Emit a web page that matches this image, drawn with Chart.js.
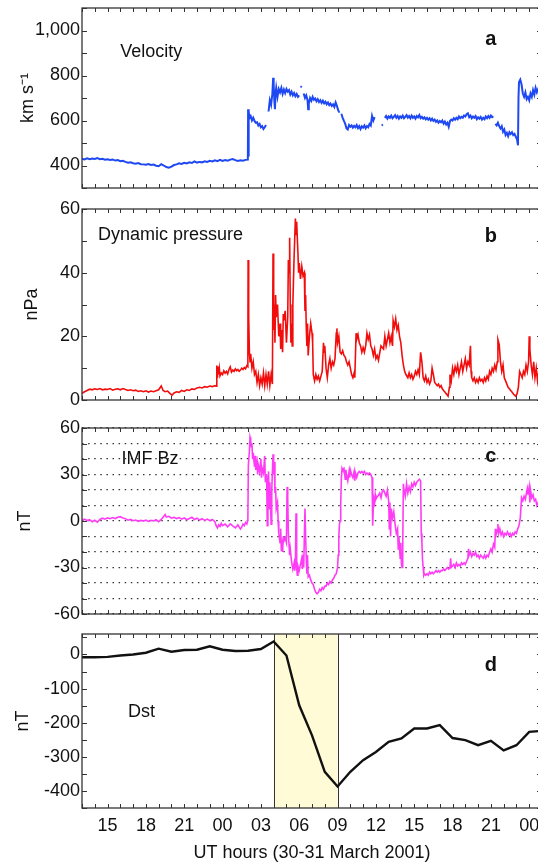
<!DOCTYPE html>
<html>
<head>
<meta charset="utf-8">
<script src="https://cdn.jsdelivr.net/npm/chart.js@4.4.1/dist/chart.umd.min.js"></script>
<style>
  html, body { margin: 0; padding: 0; background: #fff; }
  body { width: 538px; height: 865px; overflow: hidden; position: relative; }
  canvas { position: absolute; left: 0; }
</style>
</head>
<body>
<canvas id="velocity" width="542" height="204" style="top:-4px"></canvas>
<canvas id="pressure" width="542" height="215" style="top:197px"></canvas>
<canvas id="imfbz" width="542" height="210" style="top:416px"></canvas>
<canvas id="dst" width="542" height="243" style="top:622px"></canvas>
<script>
/**
 * Tormenta del 30-31 de marzo de 2001 — viento solar y Dst
 * Eje de tiempo en horas contadas desde 30 marzo 00 UT (24 = 31 marzo 00 UT)
 */
const FONT = '"Liberation Sans", Arial, sans-serif';
const HOUR_MIN = 13;
const HOUR_MAX = 49;

const labelHours = [15, 18, 21, 24, 27, 30, 33, 36, 39, 42, 45, 48];
const hourLabels = ['15', '18', '21', '00', '03', '06', '09', '12', '15', '18', '21', '00'];

const velTicks = [300, 400, 500, 600, 700, 800, 900, 1000, 1100];
const velLabels = [400, 600, 800, 1000];
const presTicks = [0, 10, 20, 30, 40, 50, 60];
const presLabels = [0, 20, 40, 60];
const bzTicks = [-60, -50, -40, -30, -20, -10, 0, 10, 20, 30, 40, 50, 60];
const bzLabels = [-60, -30, 0, 30, 60];
const dstTicks = [-450, -400, -350, -300, -250, -200, -150, -100, -50, 0, 50];
const dstLabels = [-400, -300, -200, -100, 0];

// horas 04-09 UT del 31 de marzo (fase principal)
const mainPhase = [28, 33];

// [hora, km/s] — null = hueco en los datos
const velocity = [
  [13.0, 430], [13.2, 427], [13.4, 432], [13.6, 428], [13.8, 431], [14.0, 429], [14.2, 433], [14.4, 428],
  [14.6, 430], [14.8, 426], [15.0, 428], [15.2, 425], [15.4, 427], [15.6, 422], [15.8, 424], [16.0, 419],
  [16.2, 421], [16.4, 416], [16.6, 412], [16.8, 414], [17.0, 410], [17.2, 408], [17.4, 411], [17.6, 406],
  [17.8, 405], [18.0, 403], [18.2, 406], [18.4, 402], [18.6, 404], [18.8, 399], [19.0, 397], [19.2, 406],
  [19.4, 400], [19.6, 393], [19.8, 390], [20.0, 395], [20.2, 402], [20.4, 405], [20.6, 410], [20.8, 407],
  [21.0, 412], [21.2, 409], [21.4, 414], [21.6, 411], [21.8, 418], [22.0, 413], [22.2, 416], [22.4, 414],
  [22.6, 419], [22.8, 416], [23.0, 421], [23.2, 418], [23.4, 423], [23.6, 419], [23.8, 425], [24.0, 420],
  [24.2, 424], [24.4, 421], [24.6, 426], [24.8, 429], [25.0, 424], [25.2, 420], [25.4, 423], [25.6, 421],
  [25.8, 425], [25.98, 426], [26.0, 650], [26.03, 440], [26.06, 640], [26.1, 610], [26.2, 620], [26.3, 600],
  [26.4, 612], [26.5, 598], [26.6, 590], [26.7, 592], [26.8, 578], [26.9, 585], [27.0, 570], [27.1, 575],
  [27.2, 562], [27.3, 570], [27.4, 580], [27.5, null], [27.6, 640], [27.7, 690], [27.8, 670], [27.9, 720],
  [27.96, 790], [28.0, 760], [28.05, 690], [28.1, 650], [28.15, 720], [28.2, 745], [28.3, 705], [28.4, 740],
  [28.5, 725], [28.6, 745], [28.7, 718], [28.8, 738], [28.9, 722], [29.0, 740], [29.1, 728], [29.2, 735],
  [29.3, 715], [29.4, 728], [29.5, 712], [29.6, 722], [29.7, 708], [29.8, 718], [29.9, 705], [30.0, 712],
  [30.05, null], [30.1, 752], [30.2, 748], [30.25, null], [30.35, 720], [30.45, 700], [30.55, 712], [30.65, 690],
  [30.7, 650], [30.75, 675], [30.85, 700], [30.95, 688], [31.05, 705], [31.15, 692], [31.25, 698], [31.35, 685],
  [31.45, 695], [31.55, 682], [31.65, 690], [31.75, 678], [31.85, 688], [31.95, 676], [32.05, 684], [32.15, 672],
  [32.25, 680], [32.35, 668], [32.45, 675], [32.55, 665], [32.65, 672], [32.75, 660], [32.85, 680], [32.95, 665],
  [33.05, 645], [33.15, 635], [33.2, null], [33.3, 630], [33.4, 612], [33.5, 598], [33.6, 585], [33.7, 565],
  [33.8, 560], [33.9, 580], [34.0, 572], [34.1, 578], [34.2, 568], [34.3, 576], [34.4, 570], [34.5, 580],
  [34.6, 566], [34.7, 575], [34.8, 562], [34.9, 574], [35.0, 568], [35.1, 578], [35.2, 565], [35.3, 575],
  [35.4, 570], [35.5, 585], [35.6, 578], [35.7, 620], [35.8, 600], [35.9, 615], [36.0, null], [36.45, 578],
  [36.55, 582], [36.6, null], [36.7, 612], [36.8, 620], [36.9, 608], [37.0, 618], [37.1, 612], [37.2, 622],
  [37.3, 610], [37.4, 616], [37.5, 624], [37.6, 612], [37.7, 620], [37.8, 608], [37.9, 618], [38.0, 612],
  [38.1, 622], [38.2, 610], [38.3, 616], [38.4, 624], [38.5, 613], [38.6, 620], [38.7, 610], [38.8, 622],
  [38.9, 612], [39.0, 618], [39.1, 608], [39.2, 620], [39.3, 614], [39.4, 624], [39.5, 610], [39.6, 616],
  [39.7, 608], [39.8, 614], [39.9, 605], [40.0, 612], [40.1, 604], [40.2, 610], [40.3, 600], [40.4, 608],
  [40.5, 598], [40.6, 604], [40.7, 594], [40.8, 600], [40.9, 590], [41.0, 598], [41.1, 592], [41.2, 600],
  [41.3, 586], [41.4, 595], [41.5, 582], [41.6, 590], [41.7, 572], [41.8, 598], [41.9, 604], [42.0, 600],
  [42.1, 610], [42.2, 604], [42.3, 612], [42.4, 606], [42.5, 618], [42.6, 610], [42.7, 616], [42.8, 612],
  [42.9, 622], [43.0, 618], [43.1, 628], [43.2, 632], [43.3, 615], [43.4, 622], [43.5, 610], [43.6, 618],
  [43.7, 612], [43.8, 620], [43.9, 606], [44.0, 614], [44.1, 608], [44.2, 616], [44.3, 604], [44.4, 612],
  [44.5, 606], [44.6, 618], [44.7, 610], [44.8, 620], [44.9, 612], [45.0, 622], [45.1, 615], [45.2, 618],
  [45.25, null], [45.35, 585], [45.45, 578], [45.55, 590], [45.65, 575], [45.75, 565], [45.85, 575], [45.95, 550],
  [46.05, 560], [46.15, 535], [46.25, 545], [46.35, 530], [46.45, 548], [46.55, 540], [46.65, 548], [46.75, 535],
  [46.85, 540], [46.95, 528], [47.05, 515], [47.12, 490], [47.16, 700], [47.2, 770], [47.3, 782], [47.4, 760],
  [47.5, 720], [47.6, 705], [47.7, 725], [47.8, 695], [47.9, 705], [48.0, 690], [48.1, 720], [48.2, 705],
  [48.3, 735], [48.4, 715], [48.5, 745], [48.6, 725], [48.7, 740], [48.8, 730], [48.9, 745], [49.0, 735],
];

// [hora, nPa]
const pressure = [
  [13.0, 2.1], [13.2, 2.6], [13.4, 3.0], [13.6, 3.4], [13.8, 3.2], [14.0, 3.5], [14.2, 3.3], [14.4, 3.6],
  [14.6, 3.2], [14.8, 3.4], [15.0, 3.3], [15.2, 3.6], [15.4, 3.1], [15.6, 3.4], [15.8, 3.5], [16.0, 3.2],
  [16.2, 3.6], [16.4, 3.3], [16.6, 3.0], [16.8, 3.2], [17.0, 2.9], [17.2, 3.1], [17.4, 2.7], [17.6, 2.9],
  [17.8, 2.6], [18.0, 2.9], [18.2, 2.5], [18.4, 2.8], [18.6, 2.6], [18.8, 2.9], [19.0, 3.2], [19.2, 4.4],
  [19.35, 3.0], [19.5, 2.6], [19.7, 2.8], [19.9, 2.0], [20.05, 1.5], [20.2, 2.2], [20.4, 2.6], [20.6, 2.4],
  [20.8, 3.0], [21.0, 2.7], [21.2, 3.2], [21.4, 3.0], [21.6, 3.5], [21.8, 3.3], [22.0, 3.8], [22.2, 4.0],
  [22.4, 3.8], [22.6, 4.2], [22.8, 4.0], [23.0, 4.4], [23.2, 4.2], [23.4, 4.5], [23.5, 4.3], [23.55, 10.8],
  [23.6, 7.0], [23.65, 10.5], [23.7, 8.0], [23.75, 9.8], [23.8, 7.6], [23.9, 8.5], [24.0, 8.0], [24.1, 9.2],
  [24.2, 8.4], [24.3, 9.0], [24.4, 8.2], [24.5, 9.6], [24.6, 10.4], [24.7, 8.8], [24.8, 9.4], [24.9, 9.0],
  [25.0, 9.8], [25.1, 9.2], [25.2, 9.6], [25.3, 9.0], [25.4, 9.4], [25.5, 10.0], [25.6, 9.6], [25.7, 10.2],
  [25.8, 9.8], [25.9, 10.8], [25.98, 10.5], [26.0, 44.0], [26.03, 18], [26.06, 26], [26.1, 15], [26.15, 12],
  [26.2, 14.5], [26.3, 10], [26.4, 12], [26.5, 8], [26.6, 9], [26.7, 5.5], [26.8, 8], [26.9, 4.5],
  [27.0, 7], [27.1, 5], [27.2, 8.5], [27.3, 4.5], [27.4, 8], [27.5, 5], [27.6, 9], [27.7, 4.5],
  [27.8, 8], [27.9, 5], [27.95, 46], [28.0, 22], [28.05, 30], [28.1, 18], [28.15, 33], [28.2, 26],
  [28.3, 30], [28.4, 20], [28.5, 24], [28.55, 16], [28.6, 22], [28.7, 15], [28.75, 27], [28.8, 25],
  [28.9, 28], [29.0, 18], [29.1, 26], [29.15, 44], [29.2, 40], [29.25, 51], [29.3, 30], [29.35, 18],
  [29.4, 24], [29.45, 17], [29.5, 30], [29.6, 45], [29.7, 57], [29.75, 52], [29.8, 56], [29.9, 46],
  [29.95, 40], [30.0, 43], [30.1, 38], [30.2, 42], [30.3, 39], [30.4, 40], [30.45, 28], [30.5, 33],
  [30.55, 23], [30.6, 17], [30.65, 24], [30.7, 14], [30.8, 20], [30.9, 24], [31.0, 21], [31.05, 18],
  [31.1, 8], [31.2, 6], [31.3, 8], [31.4, 6.5], [31.5, 7.5], [31.6, 6], [31.7, 7.5], [31.8, 9],
  [31.9, 18], [31.95, 15], [32.0, 17], [32.1, 10], [32.2, 7], [32.3, 11], [32.4, 13], [32.5, 10],
  [32.6, 12], [32.7, 11], [32.8, 13], [32.9, 21], [32.95, 22.5], [33.0, 18], [33.1, 20], [33.2, 15],
  [33.3, 14.5], [33.4, 15.5], [33.5, 14], [33.6, 13.5], [33.7, 12], [33.8, 11], [33.9, 12], [34.0, 10],
  [34.1, 8], [34.2, 7], [34.3, 8.5], [34.35, 7], [34.45, 21], [34.5, 19], [34.6, 20.5], [34.7, 18],
  [34.8, 17], [34.9, 15], [35.0, 16.5], [35.1, 15], [35.2, 17], [35.3, 21], [35.4, 19], [35.5, 20.5],
  [35.6, 17], [35.7, 16], [35.8, 14], [35.9, 16], [36.0, 13], [36.1, 14], [36.2, 12.5], [36.4, 17],
  [36.6, 16], [36.7, 20], [36.8, 17], [36.9, 19], [37.0, 21], [37.1, 18], [37.2, 20], [37.3, 17],
  [37.35, 25], [37.45, 23], [37.55, 25.5], [37.65, 22], [37.75, 23.5], [37.85, 20], [37.95, 18], [38.05, 14],
  [38.15, 11], [38.25, 9], [38.35, 8], [38.5, 7], [38.6, 8.5], [38.7, 7], [38.8, 8], [38.9, 6.5],
  [39.0, 7.5], [39.1, 9], [39.2, 8], [39.3, 9.5], [39.4, 8], [39.5, 15], [39.6, 12], [39.7, 7],
  [39.8, 6], [39.9, 7.5], [40.0, 5.5], [40.1, 6.5], [40.2, 5], [40.3, 6], [40.4, 10], [40.5, 8],
  [40.6, 5.5], [40.7, 5], [40.8, 4.5], [40.9, 5], [41.0, 4], [41.1, 4.5], [41.2, 3.5], [41.3, 3],
  [41.4, 2.5], [41.5, 2], [41.6, 1.5], [41.65, 1.2], [41.75, 4], [41.8, 8], [41.9, 6], [42.0, 10],
  [42.1, 8], [42.2, 10.5], [42.3, 9], [42.4, 11], [42.5, 8], [42.6, 10], [42.7, 12], [42.8, 9],
  [42.9, 11], [43.0, 13], [43.1, 10], [43.2, 12], [43.3, 11], [43.4, 17], [43.45, 9], [43.5, 7],
  [43.6, 6], [43.7, 7], [43.8, 5.5], [43.9, 6.5], [44.0, 5.5], [44.1, 7], [44.2, 6], [44.3, 6.5],
  [44.4, 5.5], [44.5, 7], [44.6, 6], [44.7, 7.5], [44.8, 6.5], [44.9, 9], [45.0, 8], [45.1, 10],
  [45.2, 9], [45.3, 11], [45.4, 9.5], [45.5, 12], [45.55, 19], [45.65, 17.5], [45.75, 12], [45.85, 9],
  [45.95, 11], [46.05, 7], [46.15, 6], [46.25, 5], [46.35, 4], [46.45, 3.5], [46.55, 3], [46.65, 2.5],
  [46.75, 2], [46.85, 1.5], [46.95, 1.2], [47.05, 2], [47.15, 4], [47.25, 9], [47.35, 8], [47.45, 7],
  [47.55, 9], [47.65, 8], [47.75, 11], [47.85, 9], [47.95, 12], [48.0, 20], [48.05, 16], [48.15, 11],
  [48.25, 8], [48.35, 12], [48.45, 7], [48.55, 10], [48.65, 6], [48.75, 9], [48.85, 7], [49.0, 8],
];

// [hora, nT]
const imfBz = [
  [13.0, 0.5], [13.2, 1.2], [13.4, 0.3], [13.6, 0.8], [13.8, -0.5], [14.0, 0.5], [14.2, -0.8], [14.4, 1.0],
  [14.6, 1.8], [14.8, 1.2], [15.0, 2.0], [15.2, 1.5], [15.4, 2.2], [15.6, 1.6], [15.8, 2.4], [16.0, 2.8],
  [16.2, 2.0], [16.4, 1.5], [16.6, 0.5], [16.8, 1.0], [17.0, 0.2], [17.2, 0.6], [17.4, -0.2], [17.6, 0.4],
  [17.8, 0.0], [18.0, 0.5], [18.2, -0.3], [18.4, 0.4], [18.6, 0.0], [18.8, 0.8], [19.0, -0.5], [19.2, 1.0],
  [19.4, 3.0], [19.5, 4.2], [19.6, 2.5], [19.8, 3.0], [20.0, 1.8], [20.2, 2.4], [20.4, 1.6], [20.6, 2.2],
  [20.8, 1.2], [21.0, 2.0], [21.2, 0.8], [21.4, 1.6], [21.6, 2.4], [21.8, 1.0], [22.0, 1.8], [22.2, 0.6],
  [22.4, 1.5], [22.6, 0.4], [22.8, 1.2], [23.0, 0.2], [23.2, 1.0], [23.4, -0.5], [23.5, -3.0], [23.6, -4.5],
  [23.7, -2.5], [23.8, -3.5], [23.9, -1.5], [24.0, -3.0], [24.2, -2.0], [24.4, -3.8], [24.6, -1.8], [24.8, -3.2],
  [25.0, -4.5], [25.2, -2.5], [25.4, -5.2], [25.5, -4.0], [25.6, -2.0], [25.7, -3.0], [25.8, -1.0], [25.9, -2.0],
  [25.98, 0.5], [26.02, 36], [26.1, 45], [26.15, 54], [26.2, 52], [26.25, 48], [26.3, 50], [26.35, 40],
  [26.4, 44], [26.5, 35], [26.55, 42], [26.6, 33], [26.7, 38], [26.75, 30], [26.8, 36], [26.9, 32],
  [27.0, 40], [27.05, 28], [27.1, 34], [27.2, 31], [27.3, 42], [27.35, 25], [27.45, 30], [27.5, -3],
  [27.55, 22], [27.6, 32], [27.65, 8], [27.7, 25], [27.8, -2], [27.85, 20], [27.95, 43], [28.0, 30],
  [28.05, 38], [28.1, 18], [28.15, 22], [28.2, 8], [28.3, 12], [28.35, 0], [28.4, -8], [28.5, -14],
  [28.55, -5], [28.6, -19], [28.65, -12], [28.7, -20], [28.75, -10], [28.8, -13], [28.9, -11], [29.0, -14],
  [29.05, 22], [29.1, 15], [29.15, -8], [29.2, -15], [29.25, -22], [29.3, -18], [29.4, -26], [29.5, -31],
  [29.6, -27], [29.65, -32], [29.7, -28], [29.75, 5], [29.8, -30], [29.85, -35], [29.9, -29], [30.0, -32],
  [30.1, -28], [30.2, -24], [30.25, -31], [30.3, -22], [30.35, -30], [30.45, 8], [30.5, -10], [30.55, -24],
  [30.6, -34], [30.65, -22], [30.7, -36], [30.8, -35], [30.9, -38], [31.0, -40], [31.1, -41], [31.2, -44],
  [31.3, -46], [31.4, -47], [31.5, -46], [31.6, -44], [31.7, -45], [31.8, -43], [31.9, -44], [32.0, -42],
  [32.1, -42], [32.2, -40], [32.3, -41], [32.4, -39], [32.5, -40], [32.6, -38], [32.7, -37], [32.8, -35],
  [32.9, -34], [33.0, -30], [33.05, -22], [33.1, -10], [33.15, -2], [33.2, 0], [33.25, 12], [33.3, 28],
  [33.35, 34], [33.4, 33], [33.5, 34], [33.55, 31], [33.6, 27], [33.65, 33], [33.7, 30], [33.8, 26],
  [33.9, 32], [33.95, 28], [34.0, 33], [34.1, 30], [34.2, 28], [34.3, 32], [34.35, 26], [34.4, 31],
  [34.5, 28], [34.6, 31], [34.7, 32], [34.8, 31], [34.9, 32], [35.0, 31], [35.1, 32], [35.2, 30],
  [35.3, 31], [35.4, 30], [35.5, 31], [35.6, 30], [35.7, 28], [35.75, -3], [35.8, 10], [35.85, 14],
  [35.9, 12], [35.95, 17], [36.0, 14], [36.05, 15], [36.15, 16], [36.3, 18], [36.4, 15], [36.5, 19],
  [36.6, 20], [36.7, 18], [36.8, 16], [36.9, 20], [37.0, 13], [37.05, -5], [37.1, 12], [37.15, -10],
  [37.2, 8], [37.3, 2], [37.4, 6], [37.5, -2], [37.6, -8], [37.7, -5], [37.75, -18], [37.8, -10],
  [37.9, -24], [37.95, -14], [38.0, -28], [38.05, -30], [38.1, -18], [38.15, 24], [38.2, 20], [38.3, 16],
  [38.4, 24], [38.5, 18], [38.6, 22], [38.7, 19], [38.8, 24], [38.9, 22], [39.0, 25], [39.1, 23],
  [39.2, 25], [39.3, 26], [39.4, 27], [39.5, 26], [39.55, -8], [39.6, -14], [39.65, -25], [39.7, -30],
  [39.75, -35], [39.8, -34], [39.9, -35], [40.0, -34], [40.1, -35], [40.2, -33], [40.3, -34], [40.4, -33],
  [40.5, -34], [40.6, -33], [40.7, -32], [40.8, -33], [40.9, -32], [41.0, -33], [41.1, -32], [41.2, -32],
  [41.3, -31], [41.4, -32], [41.5, -31], [41.6, -30], [41.7, -31], [41.8, -30], [41.85, -24], [41.9, -30],
  [42.0, -29], [42.1, -28], [42.2, -30], [42.3, -27], [42.4, -29], [42.5, -28], [42.6, -29], [42.7, -27],
  [42.8, -28], [42.9, -27], [43.0, -28], [43.1, -26], [43.2, -24], [43.25, -18], [43.3, -22], [43.4, -20],
  [43.5, -23], [43.6, -21], [43.7, -22], [43.8, -20], [43.9, -23], [44.0, -22], [44.1, -24], [44.2, -22],
  [44.3, -23], [44.4, -24], [44.5, -22], [44.6, -24], [44.7, -22], [44.8, -23], [44.9, -20], [45.0, -18],
  [45.1, -20], [45.2, -15], [45.3, -17], [45.35, -5], [45.4, -9], [45.5, -6], [45.55, -2], [45.6, -8],
  [45.7, -5], [45.8, -9], [45.9, -7], [46.0, -10], [46.1, -8], [46.2, -9], [46.3, -7], [46.4, -9],
  [46.5, -8], [46.6, -10], [46.7, -8], [46.8, -9], [46.9, -7], [47.0, -8], [47.1, -5], [47.2, -3],
  [47.3, 2], [47.4, 15], [47.5, 13], [47.6, 16], [47.7, 14], [47.8, 19], [47.85, 21], [47.9, 17],
  [48.0, 22], [48.05, 12], [48.1, 20], [48.2, 15], [48.3, 17], [48.4, 13], [48.5, 14], [48.6, 10],
  [48.7, 12], [48.8, 9], [49.0, 11],
];

// índice Dst horario [hora, nT]
const dstIndex = [
  [13, -8], [14, -8], [15, -7], [16, -3], [17, 0], [18, 5], [19, 17], [20, 8],
  [21, 13], [22, 14], [23, 24], [24, 14], [25, 10], [26, 11], [27, 16], [28, 38],
  [29, -3], [30, -149], [31, -237], [32, -344], [33, -387], [34, -344], [35, -310], [36, -286],
  [37, -256], [38, -246], [39, -217], [40, -217], [41, -207], [42, -245], [43, -251], [44, -266],
  [45, -253], [46, -281], [47, -266], [48, -227], [49, -224],
];

Chart.defaults.font.family = FONT;
Chart.defaults.font.size = 18;
Chart.defaults.color = '#111';

const toPoints = (series) => series.map(([h, v]) => ({ x: h, y: v }));

// marco, ticks interiores, sombreado y rótulos de cada panel
const panelFrame = {
  id: 'panelFrame',
  beforeDatasetsDraw(chart, args, opts) {
    if (!opts.shade) return;
    const { ctx, chartArea: a, scales: { x } } = chart;
    const x0 = x.getPixelForValue(opts.shade[0]);
    const x1 = x.getPixelForValue(opts.shade[1]);
    ctx.save();
    ctx.fillStyle = '#fffbd6';
    ctx.fillRect(x0, a.top, x1 - x0, a.bottom - a.top);
    ctx.strokeStyle = '#333';
    ctx.lineWidth = 1;
    ctx.beginPath();
    [x0, x1].forEach((px) => {
      ctx.moveTo(Math.round(px) + 0.5, a.top);
      ctx.lineTo(Math.round(px) + 0.5, a.bottom);
    });
    ctx.stroke();
    ctx.restore();
  },
  afterDraw(chart, args, opts) {
    const { ctx, chartArea: a, scales: { x, y } } = chart;
    ctx.save();
    ctx.strokeStyle = '#333';
    ctx.lineWidth = 1;
    ctx.beginPath();
    for (let h = Math.ceil(x.min); h <= x.max; h++) {
      const px = Math.round(x.getPixelForValue(h)) + 0.5;
      ctx.moveTo(px, a.top);
      ctx.lineTo(px, a.top + 4);
      ctx.moveTo(px, a.bottom);
      ctx.lineTo(px, a.bottom - 4);
    }
    y.ticks.forEach((t) => {
      const py = Math.round(y.getPixelForValue(t.value)) + 0.5;
      ctx.moveTo(a.left, py);
      ctx.lineTo(a.left + 5, py);
      ctx.moveTo(a.right, py);
      ctx.lineTo(a.right - 5, py);
    });
    ctx.stroke();
    ctx.lineWidth = 1.3;
    ctx.strokeRect(a.left, a.top, a.right - a.left, a.bottom - a.top);

    ctx.fillStyle = '#111';
    ctx.textBaseline = 'middle';
    (opts.notes || []).forEach((n) => {
      ctx.font = (n.bold ? 'bold 20px ' : '18px ') + FONT;
      ctx.textAlign = n.bold ? 'center' : 'left';
      ctx.fillText(n.text, x.getPixelForValue(n.x), y.getPixelForValue(n.y));
    });
    ctx.restore();
  },
};

function yAxis(min, max, ticks, labels, title, titlePad, dotted) {
  return {
    min,
    max,
    afterBuildTicks: (s) => { s.ticks = ticks.map((v) => ({ value: v })); },
    afterFit: (s) => { s.width = 82; s.paddingTop = 0; s.paddingBottom = 0; },
    grid: dotted
      ? { display: true, drawTicks: false, color: '#333', lineWidth: 1.2 }
      : { display: false, drawTicks: false },
    border: { display: false, dash: dotted ? [1.5, 4.6] : [] },
    ticks: {
      padding: 2,
      autoSkip: false,
      callback: (v) => (labels.includes(v) ? v.toLocaleString('en-US') : ''),
    },
    title: { display: true, text: title, padding: { top: titlePad, bottom: 0 } },
  };
}

const hiddenX = { type: 'linear', min: HOUR_MIN, max: HOUR_MAX, display: false };

const timeX = {
  type: 'linear',
  min: HOUR_MIN,
  max: HOUR_MAX,
  afterBuildTicks: (s) => { s.ticks = labelHours.map((v) => ({ value: v })); },
  afterFit: (s) => { s.height = 57; s.paddingLeft = 0; s.paddingRight = 0; },
  grid: { display: false, drawTicks: false },
  border: { display: false },
  ticks: {
    autoSkip: false,
    maxRotation: 0,
    padding: 7,
    callback: (v) => hourLabels[labelHours.indexOf(v)] ?? '',
  },
  title: { display: true, text: 'UT hours (30-31 March 2001)', padding: { top: 0, bottom: 1 } },
};

function makePanel(id, series, color, width, x, y, frame, bottomPad) {
  return new Chart(document.getElementById(id), {
    type: 'line',
    data: {
      datasets: [{
        data: toPoints(series),
        borderColor: color,
        borderWidth: width,
        pointRadius: 0,
        tension: 0,
        spanGaps: false,
      }],
    },
    options: {
      responsive: false,
      animation: false,
      layout: { padding: { top: 12, bottom: bottomPad, left: 0, right: 0 } },
      plugins: { legend: { display: false }, tooltip: { enabled: false }, panelFrame: frame },
      scales: { x, y },
    },
    plugins: [panelFrame],
  });
}

makePanel('velocity', velocity, '#1e48f2', 2,
  hiddenX, yAxis(300, 1100, velTicks, velLabels, 'km s\u207B\u00B9', 17.5, false),
  { notes: [{ text: 'Velocity', x: 16.0, y: 906 }, { text: 'a', x: 45.0, y: 958, bold: true }] }, 12);

makePanel('pressure', pressure, '#f20d0d', 1.6,
  hiddenX, yAxis(0, 60, presTicks, presLabels, 'nPa', 21, false),
  { notes: [{ text: 'Dynamic pressure', x: 14.25, y: 51.8 }, { text: 'b', x: 45.0, y: 51.5, bold: true }] }, 12);

makePanel('imfbz', imfBz, '#ff3cf5', 1.6,
  hiddenX, yAxis(-60, 60, bzTicks, bzLabels, 'nT', 14.2, true),
  { notes: [{ text: 'IMF Bz', x: 16.1, y: 40.2 }, { text: 'c', x: 45.0, y: 41.5, bold: true }] }, 12);

makePanel('dst', dstIndex, '#111', 2.4,
  timeX, yAxis(-450, 60, dstTicks, dstLabels, 'nT', 12.5, false),
  { shade: mainPhase, notes: [{ text: 'Dst', x: 16.6, y: -168 }, { text: 'd', x: 45.0, y: -31, bold: true }] }, 0);
</script>
</body>
</html>
